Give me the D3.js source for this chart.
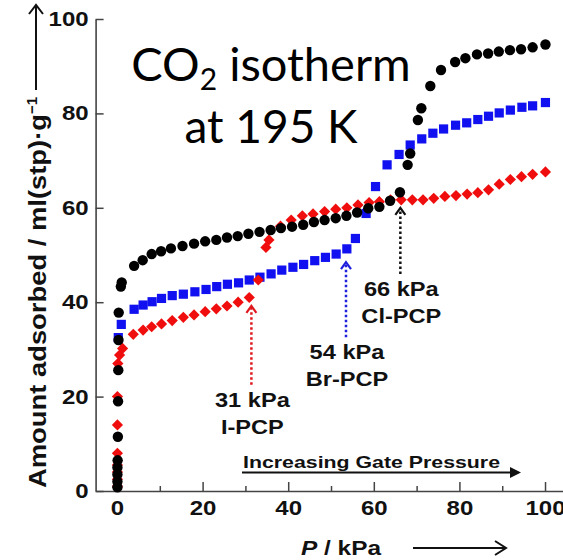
<!DOCTYPE html>
<html>
<head>
<meta charset="utf-8">
<script src="https://cdn.jsdelivr.net/npm/d3@7"></script>
<style>
  html, body { margin: 0; padding: 0; background: #fff; }
  svg { display: block; }
</style>
</head>
<body>
<script>
// ---------- data ----------
const clPressure = [0.1,0.1,0.1,0.1,0.15,0.2,0.25,0.3,0.35,0.4,0.9,1.1,
  4.0,6.0,8.1,10.3,12.6,15.3,18.0,20.6,23.2,25.7,28.2,30.7,33.3,35.9,38.3,40.9,43.5,46.0,48.5,51.1,53.6,56.1,58.7,61.3,63.8,66.1,67.9,68.5,70.3,71.1,73.2,75.7,79.0,81.4,84.1,86.7,89.2,91.8,94.4,97.1,100.1];
const clAmount = [0.8,2,3.5,5,6.5,11.5,19,25.6,32,37.8,43.3,44.2,
  47.7,48.9,50.2,50.8,51.4,51.9,52.4,52.9,53.2,53.7,54.0,54.5,54.9,55.3,55.7,56.0,56.4,57.0,57.4,57.8,58.3,59.0,59.9,60.2,61.5,63.3,69.1,71.5,78.6,81.1,85.8,89.2,90.9,91.7,92.5,92.7,93.1,93.4,93.6,94.0,94.6];

const brPressure = [0.3,1.0,4.0,6.1,8.2,10.4,12.9,15.5,18.2,20.8,23.3,25.8,28.4,30.9,33.4,36.0,38.5,41.1,43.6,46.2,48.7,51.2,53.7,55.7,58.2,60.4,63.1,65.9,68.5,71.2,73.8,76.3,79.1,81.7,84.3,86.8,89.3,91.9,94.6,97.1,100.1];
const brAmount = [32.5,35.3,38.5,39.4,40.1,40.8,41.4,41.7,42.2,42.7,43.3,43.8,44.1,44.7,45.3,46.0,46.8,47.4,48.0,48.8,49.5,50.2,51.3,53.5,58.8,64.5,69.1,71.3,73.3,74.6,75.8,76.7,77.5,78.0,78.7,79.4,80.1,80.7,81.3,81.6,82.3];

const iPressure = [0.1,0.1,0.1,0.1,0.1,0.1,0.1,0.2,0.6,1.3,
  3.8,6.1,8.1,10.4,12.9,15.5,18.0,20.6,23.2,25.7,28.3,30.9,33.0,34.8,35.5,38.2,40.7,43.3,45.8,48.5,51.1,53.7,56.3,58.9,61.3,63.9,66.4,69.0,71.5,74.0,76.6,79.2,81.8,84.3,86.8,89.3,91.9,94.5,97.1,100.1];
const iAmount = [1,2.5,4,5.5,8,14,20,27,28.8,30.2,
  33.2,34.1,34.8,35.4,36.1,36.8,37.3,38.0,38.6,39.2,40.0,41.0,44.7,51.6,53.2,56.1,57.4,58.3,58.7,59.2,59.7,60.0,60.6,61.1,61.3,61.7,61.7,61.7,61.7,62.0,62.4,62.6,62.9,63.2,63.8,65.0,66.0,66.6,67.1,67.6];

const xMajorTicks = [0,20,40,60,80,100];
const xMinorTicks = [10,30,50,70,90];
const yTicks = [0,20,40,60,80,100];

const gatePressure = [31.4, 53.5, 66.2];
const gateFrom = [22.5, 32.6, 46.0];
const gateTo = [39.2, 48.5, 60.0];
const gateLabels = ["31 kPa", "54 kPa", "66 kPa"];
const gateNames = ["I-PCP", "Br-PCP", "Cl-PCP"];
const gateColors = ["#e0191f", "#1f1fdd", "#111111"];

// ---------- setup ----------
const W = 563, H = 560;
const svg = d3.select("body").append("svg").attr("width", W).attr("height", H);
const x = d3.scaleLinear().domain([-5, 104.2]).range([95.6, 563]);
const y = d3.scaleLinear().domain([0, 100]).range([491, 19]);
const axisFont = "'Liberation Sans', Arial, sans-serif";
const WIDEN = 1.2;

function stretch(sel, f) {
  sel.each(function () {
    const L = this.getComputedTextLength();
    d3.select(this).attr("textLength", L * f).attr("lengthAdjust", "spacingAndGlyphs");
  });
}
function boldText(sel, size) {
  return sel.style("font-family", axisFont).style("font-weight", "bold")
    .style("font-size", size + "px").attr("fill", "#111");
}

// ---------- axes ----------
const gx = svg.append("g").attr("transform", `translate(0,${y(0)})`)
  .call(d3.axisBottom(x).tickValues(xMajorTicks).tickSizeInner(-9).tickSizeOuter(0).tickPadding(10).tickFormat(d3.format("d")));
const gxm = svg.append("g").attr("transform", `translate(0,${y(0)})`)
  .call(d3.axisBottom(x).tickValues(xMinorTicks).tickSizeInner(-5).tickSizeOuter(0).tickFormat(""));
gxm.select(".domain").remove();
const gy = svg.append("g").attr("transform", `translate(${x(-5)},0)`)
  .call(d3.axisLeft(y).tickValues(yTicks).tickSizeInner(-8).tickSizeOuter(0).tickPadding(7).tickFormat(d3.format("d")));

[gx, gxm, gy].forEach(g => {
  g.selectAll(".domain").attr("stroke", "#444").attr("stroke-width", 1.6);
  g.selectAll(".tick line").attr("stroke", "#444").attr("stroke-width", 1.5);
  const tt = g.selectAll(".tick text");
  boldText(tt, 20);
  stretch(tt, WIDEN);
});

// ---------- series ----------
const blue = brPressure.map((p, i) => [p, brAmount[i]]);
const red = iPressure.map((p, i) => [p, iAmount[i]]);
const black = clPressure.map((p, i) => [p, clAmount[i]]);

svg.append("g").selectAll("rect").data(blue).join("rect")
  .attr("x", d => x(d[0]) - 4.6).attr("y", d => y(d[1]) - 4.6)
  .attr("width", 9.2).attr("height", 9.2).attr("fill", "#1010f0");

svg.append("g").selectAll("path").data(red).join("path")
  .attr("d", d3.symbol().type(d3.symbolDiamond2).size(80))
  .attr("transform", d => `translate(${x(d[0])},${y(d[1])})`)
  .attr("fill", "#f00d0d");

svg.append("g").selectAll("circle").data(black).join("circle")
  .attr("cx", d => x(d[0])).attr("cy", d => y(d[1])).attr("r", 5.2)
  .attr("fill", "#000");

// ---------- gate arrows ----------
gatePressure.forEach((p, i) => {
  const cx = x(p), y0 = y(gateFrom[i]), y1 = y(gateTo[i]);
  const col = gateColors[i];
  svg.append("line").attr("x1", cx).attr("x2", cx).attr("y1", y0).attr("y2", y1 + 2)
    .attr("stroke", col).attr("stroke-width", 2.5).attr("stroke-dasharray", "2.5,2.5");
  svg.append("path").attr("d", `M${cx - 5},${y1 + 7} L${cx},${y1} L${cx + 5},${y1 + 7}`)
    .attr("fill", "none").attr("stroke", col).attr("stroke-width", 2.2);
  const a = boldText(svg.append("text").attr("text-anchor", "middle")
    .attr("x", cx + 1).attr("y", y0 + 22), 20).text(gateLabels[i]);
  const b = boldText(svg.append("text").attr("text-anchor", "middle")
    .attr("x", cx + 1).attr("y", y0 + 49), 20).text(gateNames[i]);
  stretch(a, 1.18); stretch(b, 1.18);
});

// ---------- Increasing gate pressure ----------
const inc = boldText(svg.append("text").attr("x", 243).attr("y", 468), 17).text("Increasing Gate Pressure");
inc.attr("textLength", 257).attr("lengthAdjust", "spacingAndGlyphs");
svg.append("line").attr("x1", 242).attr("x2", 514).attr("y1", 472.5).attr("y2", 472.5)
  .attr("stroke", "#111").attr("stroke-width", 2.2);
svg.append("path").attr("d", "M510,467 L521,472.5 L510,478 Z").attr("fill", "#111");

// ---------- axis titles ----------
const xt = boldText(svg.append("text").attr("x", 341).attr("y", 555).attr("text-anchor", "middle"), 20);
const xtP = xt.append("tspan").style("font-style", "italic").text("P");
const xtR = xt.append("tspan").text(" / kPa");
stretch(xtP, 1.22); stretch(xtR, 1.22);
svg.append("line").attr("x1", 413).attr("x2", 505).attr("y1", 548).attr("y2", 548)
  .attr("stroke", "#111").attr("stroke-width", 2);
svg.append("path").attr("d", "M495,541 L506,548 L495,555").attr("fill", "none")
  .attr("stroke", "#111").attr("stroke-width", 2);

const yt = boldText(svg.append("text").attr("transform", "translate(46,488) rotate(-90)")
  .attr("text-anchor", "start"), 23);
const ytMain = yt.append("tspan").text("Amount adsorbed / ml(stp)·g");
ytMain.attr("textLength", 374).attr("lengthAdjust", "spacingAndGlyphs");
yt.append("tspan").attr("dy", -9).style("font-size", "15px").text("−1");
svg.append("line").attr("x1", 36).attr("x2", 36).attr("y1", 90).attr("y2", 6)
  .attr("stroke", "#111").attr("stroke-width", 2);
svg.append("path").attr("d", "M29,14 L36,5 L43,14").attr("fill", "none")
  .attr("stroke", "#111").attr("stroke-width", 2);

// ---------- title ----------
const titleFont = "Lato, 'Open Sans', sans-serif";
const t1 = svg.append("text").attr("x", 271).attr("y", 81).attr("text-anchor", "middle")
  .style("font-family", titleFont).style("font-size", "47px").attr("fill", "#000");
t1.append("tspan").text("CO");
t1.append("tspan").attr("dy", 9).style("font-size", "30px").text("2");
t1.append("tspan").attr("dy", -9).text(" isotherm");
svg.append("text").attr("x", 271).attr("y", 143).attr("text-anchor", "middle")
  .style("font-family", titleFont).style("font-size", "46px").attr("fill", "#000")
  .text("at 195 K");
</script>
</body>
</html>
